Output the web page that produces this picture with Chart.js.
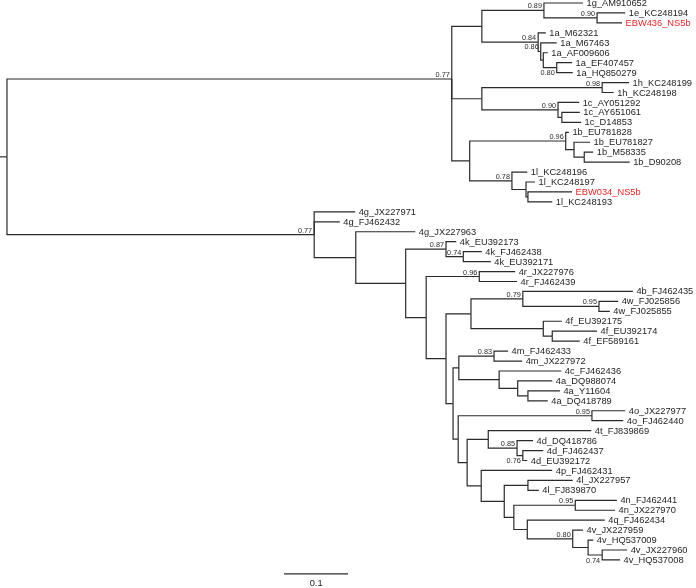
<!DOCTYPE html>
<html>
<head>
<meta charset="utf-8">
<title>NS5b tree</title>
<script src="https://cdn.jsdelivr.net/npm/chart.js@4.4.0/dist/chart.umd.min.js"></script>
<style>
  html, body { margin: 0; padding: 0; background: #fff; }
  #wrap { width: 696px; height: 588px; }
</style>
</head>
<body>
<div id="wrap"><canvas id="tree"></canvas></div>
<script>
// tips, top to bottom (row = index)
const tipNames = [
  '1g_AM910652', '1e_KC248194', 'EBW436_NS5b', '1a_M62321', '1a_M67463', '1a_AF009606',
  '1a_EF407457', '1a_HQ850279', '1h_KC248199', '1h_KC248198', '1c_AY051292', '1c_AY651061',
  '1c_D14853', '1b_EU781828', '1b_EU781827', '1b_M58335', '1b_D90208', '1l_KC248196',
  '1l_KC248197', 'EBW034_NS5b', '1l_KC248193',
  '4g_JX227971', '4g_FJ462432', '4g_JX227963', '4k_EU392173', '4k_FJ462438', '4k_EU392171',
  '4r_JX227976', '4r_FJ462439', '4b_FJ462435', '4w_FJ025856', '4w_FJ025855', '4f_EU392175',
  '4f_EU392174', '4f_EF589161', '4m_FJ462433', '4m_JX227972', '4c_FJ462436', '4a_DQ988074',
  '4a_Y11604', '4a_DQ418789', '4o_JX227977', '4o_FJ462440', '4t_FJ839869', '4d_DQ418786',
  '4d_FJ462437', '4d_EU392172', '4p_FJ462431', '4l_JX227957', '4l_FJ839870', '4n_FJ462441',
  '4n_JX227970', '4q_FJ462434', '4v_JX227959', '4v_HQ537009', '4v_JX227960', '4v_HQ537008'
];

// distance from root (substitutions/site) for each tip
const tipDepth = [
  0.900, 0.966, 0.961, 0.842, 0.859, 0.845,
  0.883, 0.884, 0.972, 0.948, 0.894, 0.895,
  0.897, 0.878, 0.911, 0.916, 0.973, 0.813,
  0.825, 0.883, 0.852,
  0.544, 0.520, 0.638, 0.702, 0.742, 0.756,
  0.794, 0.797, 0.978, 0.955, 0.942, 0.867,
  0.922, 0.895, 0.783, 0.805, 0.866, 0.852,
  0.864, 0.845, 0.966, 0.963, 0.913, 0.822,
  0.838, 0.813, 0.852, 0.884, 0.831, 0.953,
  0.950, 0.934, 0.900, 0.916, 0.969, 0.958
];

// internal nodes
const nodeIds = [
  'root', 'g1', 'g1a', 'ge89', 'e90', 'a84', 'a86', 'aaf', 'a80', 'g1b', 'h98', 'c90', 'c2',
  'g1c', 'b96', 'b2', 'b3', 'l78', 'l2', 'l3',
  'g4', 'g4a', 'g4b', 'k87', 'k74', 'g4c', 'r96', 'g4d', 'g4e', 'bw79', 'w95', 'f1', 'f2',
  'g4f', 'mca', 'm83', 'ca', 'a1', 'a2', 'g4g', 'o95', 'g4h', 'td', 'd85', 'd76',
  'g4p', 'g4l', 'l4', 'g4n', 'n95', 'g4q', 'v80', 'v2', 'v74'
];
const nodeDepth = [
  0, 0.695, 0.742, 0.839, 0.922, 0.830, 0.834, 0.838, 0.859, 0.742, 0.930, 0.861, 0.867,
  0.723, 0.873, 0.886, 0.902, 0.789, 0.811, 0.814,
  0.480, 0.545, 0.623, 0.686, 0.713, 0.655, 0.738, 0.686, 0.725, 0.806, 0.925, 0.838, 0.852,
  0.697, 0.706, 0.761, 0.769, 0.798, 0.814, 0.705, 0.914, 0.719, 0.752, 0.797, 0.806,
  0.741, 0.777, 0.814, 0.792, 0.888, 0.813, 0.884, 0.908, 0.930
];
const nodeKids = [
  ['g1', 'g4'],
  ['g1a', 'g1b', 'g1c'],
  ['ge89', 'a84'],
  ['1g_AM910652', 'e90'],
  ['1e_KC248194', 'EBW436_NS5b'],
  ['1a_M62321', 'a86'],
  ['1a_M67463', 'aaf'],
  ['1a_AF009606', 'a80'],
  ['1a_EF407457', '1a_HQ850279'],
  ['h98', 'c90'],
  ['1h_KC248199', '1h_KC248198'],
  ['1c_AY051292', 'c2'],
  ['1c_AY651061', '1c_D14853'],
  ['b96', 'l78'],
  ['1b_EU781828', 'b2'],
  ['1b_EU781827', 'b3'],
  ['1b_M58335', '1b_D90208'],
  ['1l_KC248196', 'l2'],
  ['1l_KC248197', 'l3'],
  ['EBW034_NS5b', '1l_KC248193'],
  ['4g_JX227971', '4g_FJ462432', 'g4a'],
  ['4g_JX227963', 'g4b'],
  ['k87', 'g4c'],
  ['4k_EU392173', 'k74'],
  ['4k_FJ462438', '4k_EU392171'],
  ['r96', 'g4d'],
  ['4r_JX227976', '4r_FJ462439'],
  ['g4e', 'g4f'],
  ['bw79', 'f1'],
  ['4b_FJ462435', 'w95'],
  ['4w_FJ025856', '4w_FJ025855'],
  ['4f_EU392175', 'f2'],
  ['4f_EU392174', '4f_EF589161'],
  ['mca', 'g4g'],
  ['m83', 'ca'],
  ['4m_FJ462433', '4m_JX227972'],
  ['4c_FJ462436', 'a1'],
  ['4a_DQ988074', 'a2'],
  ['4a_Y11604', '4a_DQ418789'],
  ['o95', 'g4h'],
  ['4o_JX227977', '4o_FJ462440'],
  ['td', 'g4p'],
  ['4t_FJ839869', 'd85'],
  ['4d_DQ418786', 'd76'],
  ['4d_FJ462437', '4d_EU392172'],
  ['4p_FJ462431', 'g4l'],
  ['l4', 'g4n'],
  ['4l_JX227957', '4l_FJ839870'],
  ['n95', 'g4q'],
  ['4n_FJ462441', '4n_JX227970'],
  ['4q_FJ462434', 'v80'],
  ['4v_JX227959', 'v2'],
  ['4v_HQ537009', 'v74'],
  ['4v_JX227960', '4v_HQ537008']
];
const nodeSupport = [
  '', '0.77', '', '0.89', '0.90', '0.84', '0.86', '', '0.80', '', '0.98', '0.90', '',
  '', '0.96', '', '', '0.78', '', '',
  '0.77', '', '', '0.87', '0.74', '', '0.96', '', '', '0.79', '0.95', '', '',
  '', '', '0.83', '', '', '', '', '0.95', '', '', '0.85', '0.76',
  '', '', '', '', '0.95', '', '0.80', '', '0.74'
];

// genotype 1 root branch does not meet its clade at the midpoint
const fixedRow = { g1: 7.64 };

const rootStub = 0.011;
const scaleBarStart = 0.433;
const scaleBarLength = 0.1;
const scaleBarLabel = '0.1';

// --- layout ---
const depth = {};
const row = {};
const kidsOf = {};
tipNames.forEach((n, i) => { depth[n] = tipDepth[i]; row[n] = i; });
nodeIds.forEach((id, i) => { depth[id] = nodeDepth[i]; kidsOf[id] = nodeKids[i]; });

function place(id) {
  if (row[id] !== undefined) return row[id];
  const ks = kidsOf[id].map(place);
  row[id] = fixedRow[id] !== undefined ? fixedRow[id] : (ks[0] + ks[ks.length - 1]) / 2;
  return row[id];
}
place('root');

const datasets = [];
function edge(pts) {
  datasets.push({
    data: pts,
    showLine: true,
    borderColor: '#2a2a2a',
    borderWidth: 1.2,
    pointRadius: 0,
    fill: false,
    tension: 0,
    clip: false
  });
}

nodeIds.forEach((id, i) => {
  nodeKids[i].forEach(k => {
    edge([
      { x: depth[k], y: row[k] },
      { x: depth[id], y: row[k] },
      { x: depth[id], y: row[id] }
    ]);
  });
});
edge([{ x: -rootStub, y: row.root }, { x: 0, y: row.root }]);

const barRow = tipNames.length + 0.4;
edge([{ x: scaleBarStart, y: barRow }, { x: scaleBarStart + scaleBarLength, y: barRow }]);

// support values that sit under their branch
const labelBelow = ['a80', 'd76', 'v74'];

const treeLabels = {
  id: 'treeLabels',
  afterDatasetsDraw(chart) {
    const ctx = chart.ctx;
    const xs = chart.scales.x;
    const ys = chart.scales.y;
    ctx.save();

    ctx.font = '9.3px "Liberation Sans", Arial, sans-serif';
    ctx.textAlign = 'left';
    ctx.textBaseline = 'middle';
    tipNames.forEach((n, i) => {
      ctx.fillStyle = n.startsWith('EBW') ? '#e3262a' : '#1e1e1e';
      ctx.fillText(n, xs.getPixelForValue(tipDepth[i]) + 3.5, ys.getPixelForValue(i) + 0.5);
    });

    ctx.font = '7.3px "Liberation Sans", Arial, sans-serif';
    ctx.fillStyle = '#2a2a2a';
    ctx.textAlign = 'right';
    nodeIds.forEach((id, i) => {
      const s = nodeSupport[i];
      if (!s) return;
      const px = xs.getPixelForValue(depth[id]) - 2;
      const py = ys.getPixelForValue(row[id]);
      if (labelBelow.includes(id)) {
        ctx.textBaseline = 'top';
        ctx.fillText(s, px, py + 2);
      } else {
        ctx.textBaseline = 'alphabetic';
        ctx.fillText(s, px, py - 2);
      }
    });

    ctx.font = '9.3px "Liberation Sans", Arial, sans-serif';
    ctx.fillStyle = '#1e1e1e';
    ctx.textAlign = 'center';
    ctx.textBaseline = 'middle';
    ctx.fillText(scaleBarLabel,
      xs.getPixelForValue(scaleBarStart + scaleBarLength / 2),
      ys.getPixelForValue(barRow) + 10);

    ctx.restore();
  }
};

new Chart(document.getElementById('tree'), {
  type: 'scatter',
  data: { datasets: datasets },
  options: {
    responsive: true,
    maintainAspectRatio: false,
    animation: false,
    events: [],
    layout: { padding: 0 },
    plugins: {
      legend: { display: false },
      tooltip: { enabled: false }
    },
    scales: {
      x: { type: 'linear', display: false, min: -0.0109, max: 1.0766 },
      y: { type: 'linear', display: false, reverse: true, min: -0.302, max: 58.82 }
    }
  },
  plugins: [treeLabels]
});
</script>
</body>
</html>
